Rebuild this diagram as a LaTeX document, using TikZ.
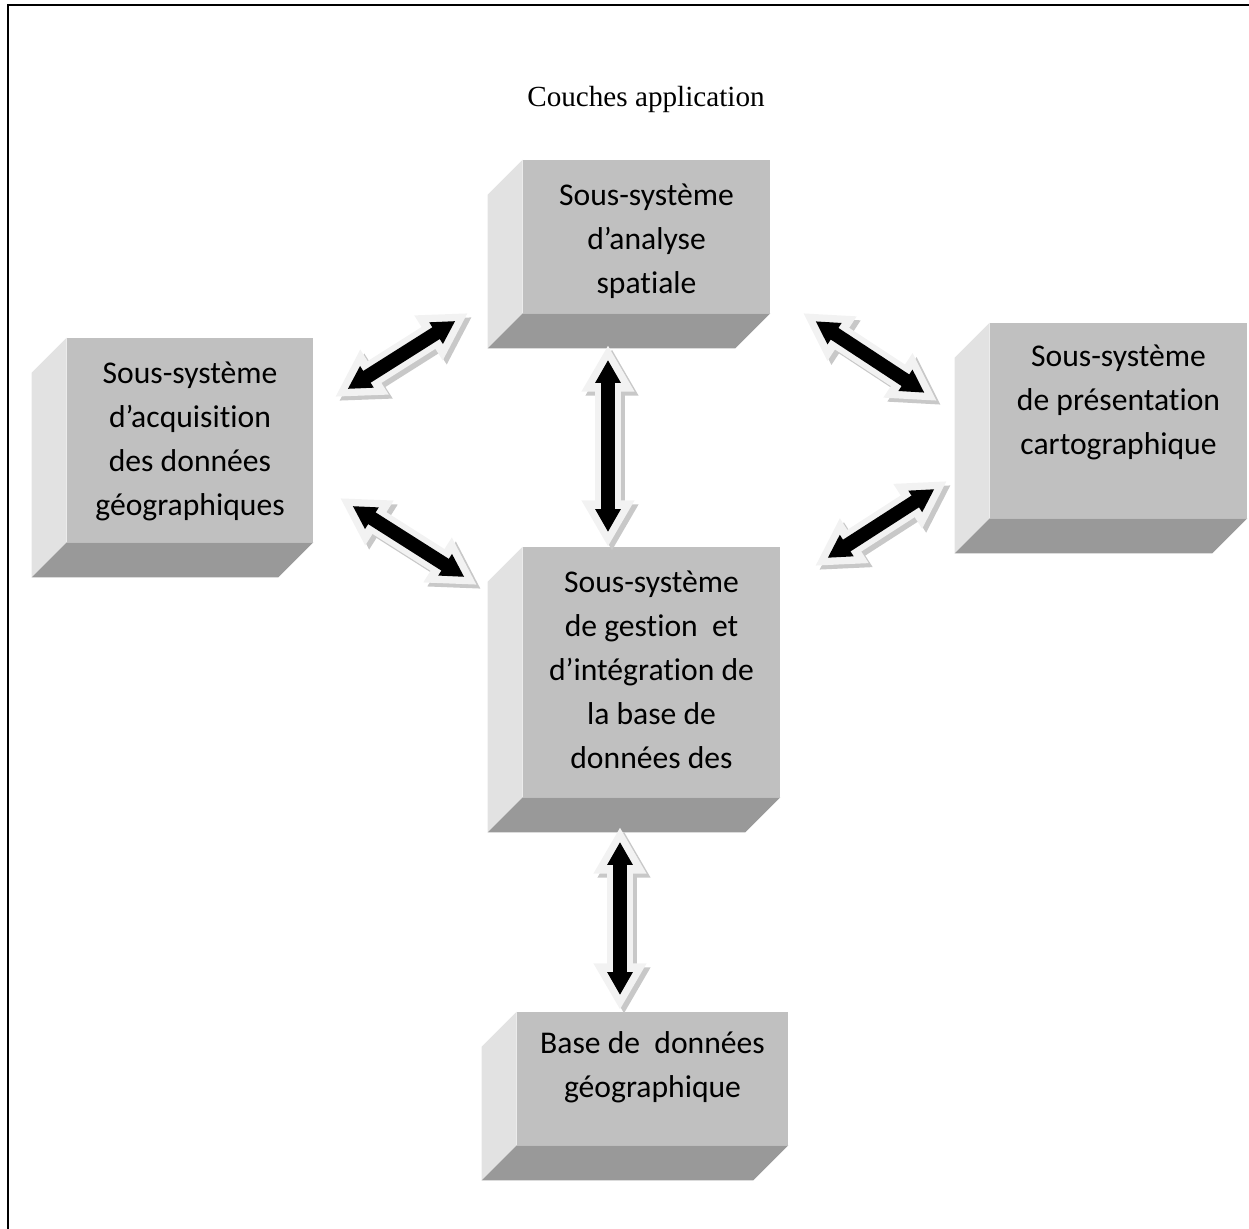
\documentclass[tikz,border=0pt]{standalone}
\usepackage{fontspec}
\setmainfont{Liberation Serif}
\newfontfamily\boxfont[Ligatures=NoCommon]{Carlito}
\usetikzlibrary{arrows.meta,positioning,calc}
\definecolor{facegray}{RGB}{192,192,192}
\definecolor{sidelight}{RGB}{226,226,226}
\definecolor{sidedark}{RGB}{153,153,153}
\definecolor{arrlight}{RGB}{242,242,242}
\definecolor{arrshade}{RGB}{200,200,200}

\begin{document}
\begin{tikzpicture}[x=0.02cm, y=-0.02cm,
		face/.style={fill=facegray, inner sep=0pt},
		boxtext/.style={font=\boxfont\fontsize{18}{25}\selectfont, align=center, inner sep=0pt},
		outerarr/.style={line width=14.7pt, {Triangle[length=26.6pt 0, width=28.3pt 0]}-{Triangle[length=26.6pt 0, width=28.3pt 0]}},
		innerarr/.style={draw=black, line width=7.9pt, shorten <=8.5pt, shorten >=8.5pt, {Triangle[length=13pt 0, width=13.6pt 0]}-{Triangle[length=13pt 0, width=13.6pt 0]}}]
				\useasboundingbox (0,0) rectangle (1249,1229);
				\clip (0,0) rectangle (1249,1229);
				\draw[line width=1.2pt] (8,1229) -- (8,5) -- (1249,5);
				\node[font=\fontsize{16.6}{20}\selectfont] (title) at (646,99) {Couches application};
				% front faces
				\node[face, minimum width=4.94cm, minimum height=3.06cm] (ana) at (646.5,236.5) {};
				\node[face, minimum width=4.92cm, minimum height=4.08cm] (acq) at (190,440) {};
				\node[face, minimum width=5.14cm, minimum height=5cm] (ges) at (651.5,672) {};
				\node[face, minimum width=5.14cm, minimum height=3.9cm] (pre) at (1118.5,420.5) {};
				\node[face, minimum width=5.42cm, minimum height=2.66cm] (bdg) at (652.5,1078.5) {};
				% bevelled sides
				\foreach \b in {ana,acq,ges,pre,bdg} {
					\fill[sidelight] (\b.north west) -- ++(-35,35) -- ($(\b.south west)+(-35,35)$) -- (\b.south west) -- cycle;
					\fill[sidedark] (\b.south west) -- (\b.south east) -- ++(-35,35) -- ($(\b.south west)+(-35,35)$) -- cycle;
				}
				\node[boxtext, below=0.48cm of ana.north] (anaT) {Sous-système\\d’analyse\\spatiale};
				\node[boxtext, below=0.48cm of acq.north] (acqT) {Sous-système\\d’acquisition\\des données\\géographiques};
				\node[boxtext, below=0.48cm of ges.north] (gesT) {Sous-système\\de gestion~ et\\d’intégration de\\la base de\\données des};
				\node[boxtext, below=0.44cm of pre.north] (preT) {Sous-système\\de présentation\\cartographique};
				\node[boxtext, below=0.40cm of bdg.north] (bdgT) {Base de~ données\\géographique};
				% arrow ends
				\coordinate (a1s) at (335,397); \coordinate (a1e) at (468,313);
				\coordinate (a2s) at (608,345); \coordinate (a2e) at (608,547);
				\coordinate (a3s) at (803,313); \coordinate (a3e) at (937,401);
				\coordinate (a4s) at (815,566); \coordinate (a4e) at (947,481);
				\coordinate (a5s) at (340,498); \coordinate (a5e) at (477,585);
				\coordinate (a6s) at (620,827); \coordinate (a6e) at (620,1010);
				\foreach \a in {a1,a2,a3,a4,a5,a6} {
					\draw[outerarr, draw=arrshade, fill=arrshade] ($(\a s)+(4,4)$) -- ($(\a e)+(4,4)$);
					\draw[outerarr, draw=arrlight, fill=arrlight] (\a s) -- (\a e);
					\draw[innerarr] (\a s) -- (\a e);
				}
			\end{tikzpicture}
\end{document}
